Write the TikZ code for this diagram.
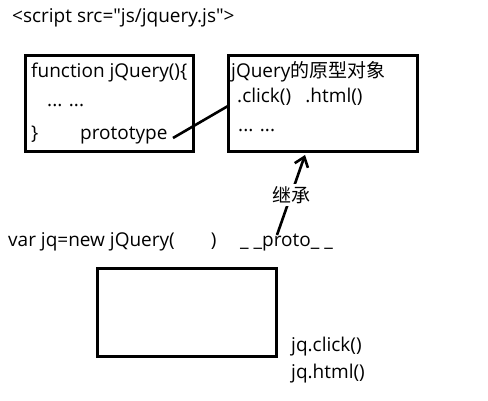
\documentclass[tikz,border=0pt]{standalone}
\usepackage{fontspec}
\setmainfont{Open Sans}[Ligatures=TeXOff]
\newfontfamily\cjk{Noto Sans CJK SC}
\usetikzlibrary{arrows.meta}
\begin{document}
\begin{tikzpicture}[x=1pt,y=-1pt,
  box/.style={draw,line width=3pt},
  txt/.style={anchor=base west,inner sep=0pt,font=\fontsize{19}{22}\selectfont},
  link/.style={line width=2.6pt}]
\useasboundingbox[fill=white] (0,0) rectangle (488,401);
\draw[box] (25,56) rectangle (193,152);
\draw[box] (228,56) rectangle (417,152);
\draw[box] (97,269) rectangle (276,356);
\node[txt] (script) at (12,23) {<script src="js/jquery.js">};
\node[txt] (fn) at (31,78) {function jQuery()\{};
\node[txt] (d1) at (47,107) {... ...};
\node[txt] (br) at (31,140) {\}};
\node[txt] (ptext) at (80,140) {prototype};
\node[txt] (t2) at (231,78) {jQuery{\cjk 的原型对象}};
\node[txt] (cl) at (237,103) {.click()\hspace{0.75em}.html()};
\node[txt] (d2) at (238,132) {... ...};
\node[txt] (var) at (8,247) {var jq=new jQuery(\hspace{1.9em})};
\node[txt] (pr) at (240,247) {\_ \_proto\_ \_};
\node[txt] (jc) at (291,352) {jq.click()};
\node[txt] (jh) at (291,378) {jq.html()};
\coordinate (ls) at (173,138);
\coordinate (le) at (228,106);
\draw[link] (ls) -- (le);
\coordinate (as) at (277,235);
\coordinate (ae) at (305,155);
\draw[link,-{Straight Barb[length=9pt,width=14pt,line width=2.6pt]}] (as) -- (ae)
  node[pos=0.5,fill=white,inner sep=2pt,font=\cjk\fontsize{19}{22}\selectfont] (jc2) {继承};
\end{tikzpicture}
\end{document}
